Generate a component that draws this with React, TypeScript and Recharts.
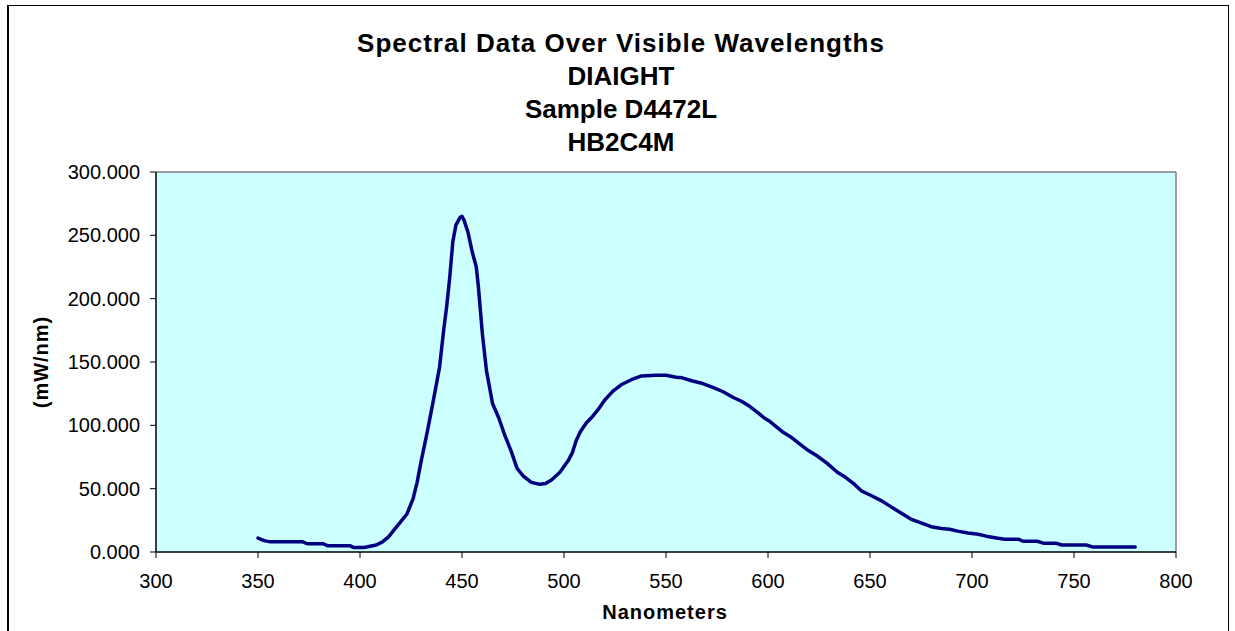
import React from 'react';
import { LineChart, Line, XAxis, YAxis, CartesianGrid, ReferenceLine } from 'recharts';

const wavelengths = [
  350, 353, 356, 365, 372, 374, 382, 384, 395, 397, 402, 405, 408, 411, 414, 417, 420, 423, 426, 428,
  430, 433, 436, 439, 441, 442.5, 444, 445.5, 447, 449, 450, 451, 453, 455, 457, 458, 460, 462, 465, 468,
  471, 474, 477, 480, 484, 488, 491, 494, 498, 502, 504, 506, 508, 511, 514, 517, 520, 524, 528, 533,
  538, 545, 550, 555, 558, 563, 568, 573, 578, 583, 587, 591, 595, 598, 601, 604, 607, 611, 615, 619,
  624, 629, 634, 638, 642, 646, 650, 655, 659, 663, 667, 670, 675, 680, 685, 689, 693, 698, 703, 707,
  712, 716, 723, 725, 732, 735, 741, 744, 756, 759, 780,
];
const power = [
  11, 9, 8, 8, 8, 6.5, 6.5, 5, 5, 3.5, 3.5, 4.5, 5.5, 8, 12, 18, 24, 30, 42, 55,
  72, 95, 120, 146, 175, 194, 217, 245, 258, 264, 265, 262, 252, 237, 225, 210, 172, 143, 117, 106,
  92, 80, 66, 60, 55, 53.5, 54, 57, 63, 72, 78, 88, 95, 102, 107, 113, 120, 127, 132, 136,
  139, 139.5, 139.5, 138, 137.5, 135, 133, 130, 126.5, 122, 119, 115, 110, 106, 103, 99, 95, 91, 86, 81,
  76, 70, 63, 59, 54, 48, 45, 41, 37, 33, 29, 26, 23, 20, 18.5, 18, 16.5, 15, 14, 12.5,
  11, 10, 10, 8.5, 8.5, 7, 7, 5.5, 5.5, 4, 4,
];
const xTicks = [300, 350, 400, 450, 500, 550, 600, 650, 700, 750, 800];
const yTicks = [0, 50, 100, 150, 200, 250, 300];
const titleLines = ['Spectral Data Over Visible Wavelengths', 'DIAIGHT', 'Sample D4472L', 'HB2C4M'];

const data = wavelengths.map((nm, i) => ({ nm, v: power[i] }));
const FONT = '"Liberation Sans", Arial, sans-serif';

export default function App() {
  const titleBaselines = [52, 85, 118, 151];
  return (
    <div style={{ position: 'absolute', left: 0, top: 0, width: 1235, height: 631, overflow: 'hidden', background: '#fff' }}>
      <div style={{ position: 'absolute', left: 7, top: 5, width: 1222, height: 640, border: '1px solid #000', borderLeftWidth: 2, boxSizing: 'border-box' }} />
      <div style={{ position: 'absolute', left: 0, top: 0 }}>
        <LineChart width={1235} height={631} data={data} margin={{ top: 172, right: 59, bottom: 39, left: 0 }}>
          <CartesianGrid horizontal={false} vertical={false} fill="#CCFFFF" />
          <XAxis
            dataKey="nm"
            type="number"
            domain={[300, 800]}
            ticks={xTicks}
            height={40}
            tickSize={6}
            tickMargin={16}
            axisLine={{ stroke: '#000', strokeWidth: 1.5 }}
            tickLine={{ stroke: '#000' }}
            tick={{ fill: '#000', fontSize: 20, fontFamily: FONT }}
          />
          <YAxis
            type="number"
            domain={[0, 300]}
            ticks={yTicks}
            width={156}
            tickSize={6}
            tickMargin={10}
            tickFormatter={(v: number) => v.toFixed(3)}
            axisLine={{ stroke: '#000', strokeWidth: 1.5 }}
            tickLine={{ stroke: '#000' }}
            tick={{ fill: '#000', fontSize: 20, fontFamily: FONT }}
          />
          <ReferenceLine y={300} stroke="#808080" strokeWidth={1.5} />
          <ReferenceLine x={800} stroke="#808080" strokeWidth={1.5} />
          <Line
            type="linear"
            dataKey="v"
            stroke="#000080"
            strokeWidth={3.5}
            dot={false}
            isAnimationActive={false}
            strokeLinejoin="round"
            strokeLinecap="round"
          />
        </LineChart>
      </div>
      <svg width={1235} height={631} style={{ position: 'absolute', left: 0, top: 0, pointerEvents: 'none' }}>
        {titleLines.map((t, i) => (
          <text
            key={t}
            x={621}
            y={titleBaselines[i]}
            textAnchor="middle"
            fontFamily={FONT}
            fontWeight="bold"
            fontSize={26}
            letterSpacing={i === 0 ? 1 : 0}
            fill="#000"
          >
            {t}
          </text>
        ))}
        <text x={665} y={619} textAnchor="middle" fontFamily={FONT} fontWeight="bold" fontSize={20} letterSpacing={1} fill="#000">
          Nanometers
        </text>
        <text transform="translate(47.5,362) rotate(-90)" textAnchor="middle" fontFamily={FONT} fontWeight="bold" fontSize={20} letterSpacing={1} fill="#000">
          (mW/nm)
        </text>
      </svg>
    </div>
  );
}
